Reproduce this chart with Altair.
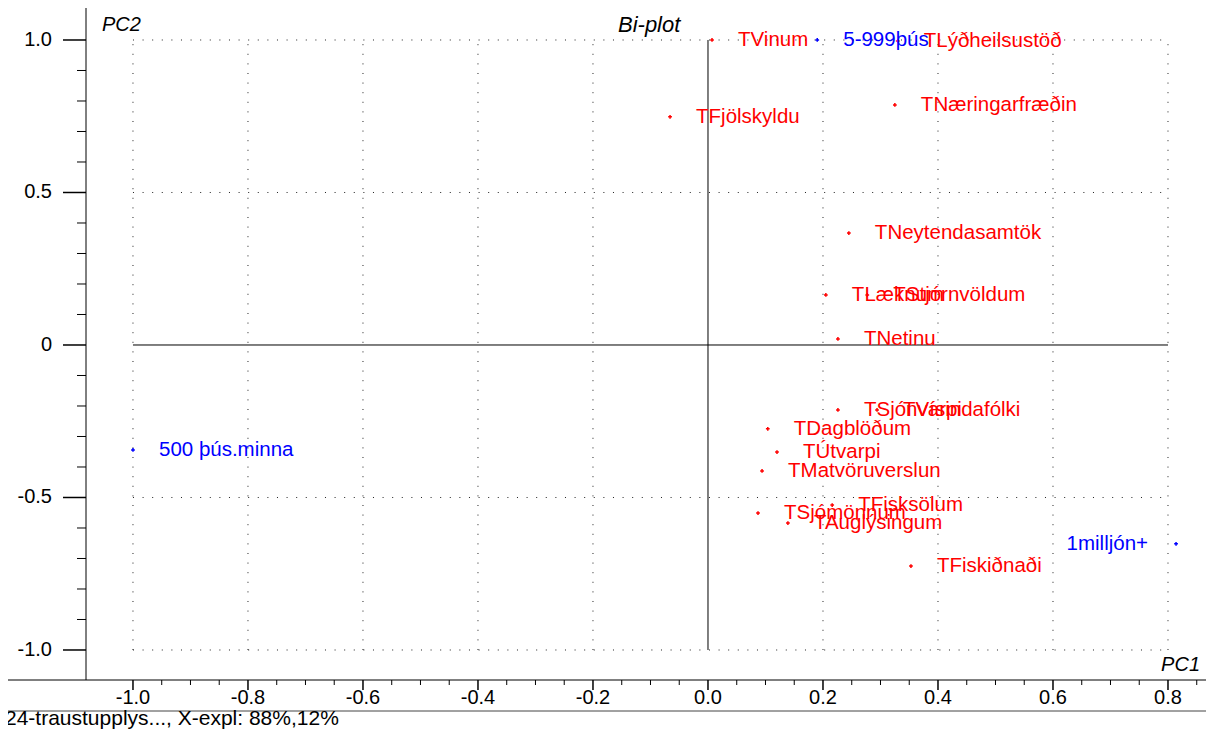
import altair as alt
import pandas as pd

# ---- data ----
names = ["TVinum", "5-999þús", "TLýðheilsustöð", "TNæringarfræðin", "TFjölskyldu",
         "TNeytendasamtök", "TLæknum", "TStjórnvöldum", "TNetinu", "TSjónvarpi",
         "TVísindafólki", "TDagblöðum", "TÚtvarpi", "TMatvöruverslun", "TFisksölum",
         "TSjómönnum", "TAuglýsingum", "TFiskiðnaði", "1milljón+", "500 þús.minna"]
pc1 = [0.007, 0.190, 0.330, 0.325, -0.066,
       0.245, 0.205, 0.277, 0.226, 0.226,
       0.294, 0.104, 0.120, 0.094, 0.216,
       0.087, 0.139, 0.353, 0.814, -1.000]
pc2 = [1.000, 1.000, 0.997, 0.787, 0.748,
       0.367, 0.164, 0.164, 0.020, -0.213,
       -0.213, -0.275, -0.351, -0.413, -0.525,
       -0.551, -0.584, -0.725, -0.652, -0.344]
kind = ["X", "Y", "X", "X", "X",
        "X", "X", "X", "X", "X",
        "X", "X", "X", "X", "X",
        "X", "X", "X", "Y", "Y"]

# tick values and tick labels
x_major = [-1.0, -0.8, -0.6, -0.4, -0.2, 0.0, 0.2, 0.4, 0.6, 0.8]
x_labels = ["-1.0", "-0.8", "-0.6", "-0.4", "-0.2", "0.0", "0.2", "0.4", "0.6", "0.8"]
x_minor = [round(-1.0 + 0.05 * i, 2) for i in range(1, 38) if i % 4 != 0]
y_major = [-1.0, -0.5, 0.0, 0.5, 1.0]
y_labels = ["-1.0", "-0.5", "0", "0.5", "1.0"]
y_minor = [round(-1.0 + 0.1 * i, 1) for i in range(0, 21) if i % 5 != 0]
grid_x = [-1.0, -0.8, -0.6, -0.4, -0.2, 0.2, 0.4, 0.6, 0.8]
grid_y = [-1.0, -0.5, 0.5, 1.0]

FONT = "Liberation Sans"
LABEL_SIZE = 20.5
TICK_FONT = 20
W, H = 1120, 672

df = pd.DataFrame({"name": names, "pc1": pc1, "pc2": pc2, "kind": kind})

xs = alt.Scale(domain=[-1.0817, 0.8661], nice=False, zero=False)
ys = alt.Scale(domain=[-1.0984, 1.1049], nice=False, zero=False)
col = alt.Scale(domain=["X", "Y"], range=["#ff0000", "#0000ff"])


def X(f):
    return alt.X(f, scale=xs, axis=None)


def Y(f):
    return alt.Y(f, scale=ys, axis=None)


# grid (dotted)
gv = pd.DataFrame({"v": grid_x, "a": -1.0, "b": 1.0})
gh = pd.DataFrame({"v": grid_y, "a": -1.0, "b": 0.8})
grid_v = alt.Chart(gv).mark_rule(color="#222222", strokeDash=[1, 8.6], strokeWidth=1).encode(
    x=X("v:Q"), y=Y("a:Q"), y2="b:Q")
grid_h = alt.Chart(gh).mark_rule(color="#222222", strokeDash=[1, 8.6], strokeWidth=1).encode(
    y=Y("v:Q"), x=X("a:Q"), x2="b:Q")

# zero lines
zv = pd.DataFrame({"v": [0.0], "a": [-1.0], "b": [1.0]})
zh = pd.DataFrame({"v": [0.0], "a": [-1.0], "b": [0.8]})
zero_v = alt.Chart(zv).mark_rule(color="black", strokeWidth=1).encode(
    x=X("v:Q"), y=Y("a:Q"), y2="b:Q")
zero_h = alt.Chart(zh).mark_rule(color="black", strokeWidth=1).encode(
    y=Y("v:Q"), x=X("a:Q"), x2="b:Q")

# axis ticks: minor and major, as short rules
mx = alt.Chart(pd.DataFrame({"v": x_minor})).mark_rule(color="black").encode(
    x=X("v:Q"), y=alt.value(H), y2=alt.value(H + 5))
my = alt.Chart(pd.DataFrame({"v": y_minor})).mark_rule(color="black").encode(
    y=Y("v:Q"), x=alt.value(-9), x2=alt.value(0))
Mx = alt.Chart(pd.DataFrame({"v": x_major})).mark_rule(color="black", strokeWidth=1.5).encode(
    x=X("v:Q"), y=alt.value(H), y2=alt.value(H + 10))
My = alt.Chart(pd.DataFrame({"v": y_major})).mark_rule(color="black", strokeWidth=1.5).encode(
    y=Y("v:Q"), x=alt.value(-23), x2=alt.value(0))
xlab = alt.Chart(pd.DataFrame({"v": x_major, "lab": x_labels})).mark_text(
    font=FONT, fontSize=TICK_FONT, align="center", baseline="middle", color="black").encode(
    x=X("v:Q"), y=alt.value(H + 18), text="lab:N")
ylab = alt.Chart(pd.DataFrame({"v": y_major, "lab": y_labels})).mark_text(
    font=FONT, fontSize=TICK_FONT, align="right", baseline="middle", color="black").encode(
    y=Y("v:Q"), x=alt.value(-34), text="lab:N")

# axis lines and footer separator
one = pd.DataFrame({"k": [0]})
yline = alt.Chart(one).mark_rule(color="black", strokeWidth=1).encode(
    x=alt.value(0), y=alt.value(0), y2=alt.value(H))
xline = alt.Chart(one).mark_rule(color="black", strokeWidth=1).encode(
    x=alt.value(-81), x2=alt.value(W), y=alt.value(H))
sep = alt.Chart(one).mark_rule(color="#444444", strokeWidth=1).encode(
    x=alt.value(-83), x2=alt.value(W), y=alt.value(703))

# points and labels
pts = alt.Chart(df).mark_point(shape="cross", filled=True, size=14, opacity=1).encode(
    x=X("pc1:Q"), y=Y("pc2:Q"),
    color=alt.Color("kind:N", scale=col, legend=None))
lab_l = alt.Chart(df).transform_filter("datum.pc1 < 0.7").mark_text(
    font=FONT, fontSize=LABEL_SIZE, align="left", baseline="middle", dx=26).encode(
    x=X("pc1:Q"), y=Y("pc2:Q"), text="name:N",
    color=alt.Color("kind:N", scale=col, legend=None))
lab_r = alt.Chart(df).transform_filter("datum.pc1 >= 0.7").mark_text(
    font=FONT, fontSize=LABEL_SIZE, align="right", baseline="middle", dx=-28).encode(
    x=X("pc1:Q"), y=Y("pc2:Q"), text="name:N",
    color=alt.Color("kind:N", scale=col, legend=None))


# static texts
def static(txt, x, y, align="left", italic=True, size=20):
    return alt.Chart(pd.DataFrame({"t": [txt]})).mark_text(
        font=FONT, fontSize=size, fontStyle="italic" if italic else "normal",
        align=align, baseline="middle", color="black").encode(
        x=alt.value(x), y=alt.value(y), text="t:N")


t_pc2 = static("PC2", 16, 17)
t_bi = static("Bi-plot", 532, 17, size=22)
t_pc1 = static("PC1", 1114, 657, align="right")
t_foot = static("24-traustupplys..., X-expl: 88%,12%", -81, 711, italic=False, size=21)

chart = alt.layer(zero_v, grid_v, grid_h, zero_h, mx, my, xlab, ylab,
                  yline, xline, sep,
                  pts, lab_l, lab_r, t_pc2, t_bi, t_pc1, t_foot, Mx, My).properties(
    width=W, height=H,
    autosize=alt.AutoSizeParams(type="none"),
    padding={"left": 78, "top": 0, "right": 0, "bottom": 56},
).configure_view(stroke=None)

chart.save("out.html", embed_options={"renderer": "svg", "actions": False})
